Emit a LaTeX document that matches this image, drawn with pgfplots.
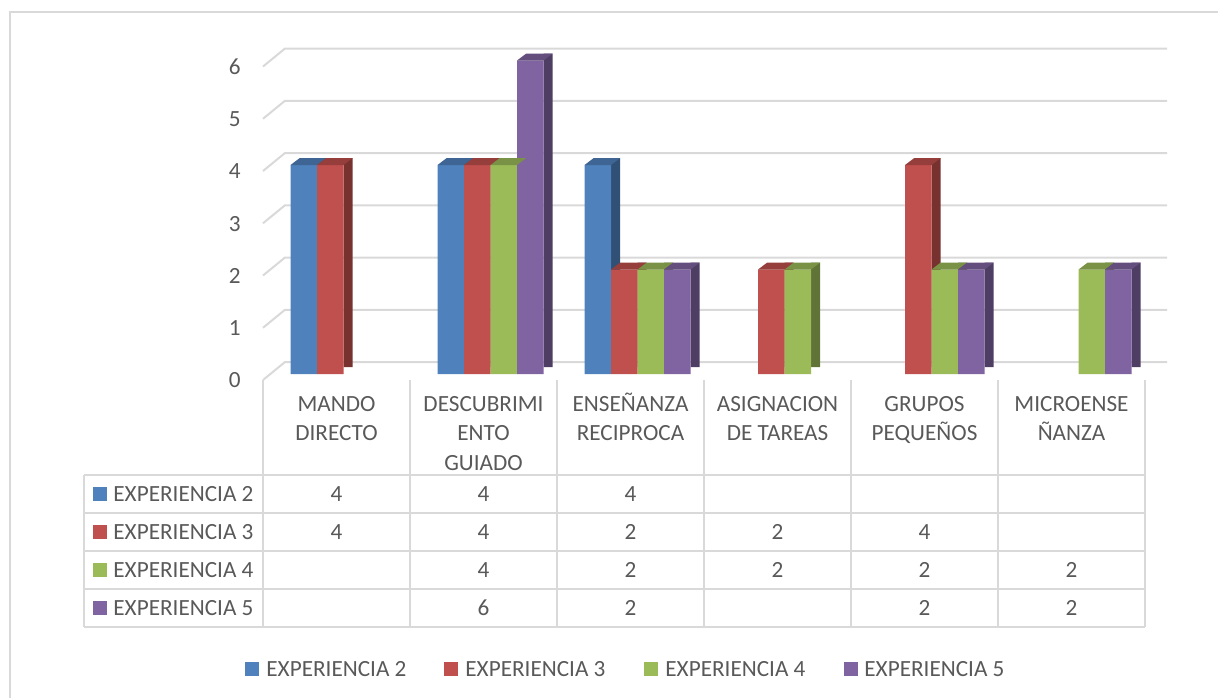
\documentclass[border=0pt]{standalone}
\usepackage{pgfplots}
\pgfplotsset{compat=1.18}
\usepackage{fontspec}
\setmainfont{Carlito}

\definecolor{txt}{HTML}{595959}
\definecolor{gridc}{HTML}{D9D9D9}
\definecolor{exA}{HTML}{4F81BD}
\definecolor{exB}{HTML}{C0504D}
\definecolor{exC}{HTML}{9BBB59}
\definecolor{exD}{HTML}{8064A2}

\newcommand\fs{\fontsize{11.6}{14}\selectfont}

% top face of a 3d column, drawn as a mark at the top of the bar
\pgfdeclareplotmark{top3d}{%
  \pgfpathmoveto{\pgfqpoint{-6.625pt}{0pt}}%
  \pgfpathlineto{\pgfqpoint{-2.125pt}{3.4pt}}%
  \pgfpathlineto{\pgfqpoint{11.125pt}{3.4pt}}%
  \pgfpathlineto{\pgfqpoint{6.625pt}{0pt}}%
  \pgfpathclose
  \pgfusepathqfill}

\pgfplotsset{
  front/.style 2 args={ybar, bar width=13.25pt, bar shift=#2, draw=none, fill=#1},
  side/.style 2 args={ybar, bar width=4.5pt, bar shift=#2+8.875pt, draw=none, fill=#1!62!black, yshift=3.4pt},
  top/.style 2 args={only marks, mark=top3d, fill=#1!78!black, draw=none, xshift=#2},
}

\begin{document}
\begin{tikzpicture}
\useasboundingbox (0pt,0pt) rectangle (609pt,-348.5pt);

\begin{axis}[
  at={(135pt,-187pt)}, anchor=south west,
  x=73.5pt, y=26.125pt,
  xmin=-0.5, xmax=5.5, ymin=0, ymax=6,
  axis line style={draw=none},
  xtick=\empty, ytick={0,...,6},
  major tick length=0pt,
  /pgf/number format/assume math mode=true,
  yticklabel style={font=\fs, text=txt, anchor=east, inner sep=0pt, xshift=-14.5pt, yshift=-3.25pt},
  clip=false,
]
\pgfplotsinvokeforeach{0,...,6}{
  \draw[gridc, line width=1pt] ([shift={(-3.5pt,-3pt)}]axis cs:-0.5,#1) -- ([shift={(7.5pt,6pt)}]axis cs:-0.5,#1) -- ([shift={(7.5pt,6pt)}]axis cs:5.5,#1);
}

% EXPERIENCIA 2
\addplot[side={exA}{-19.875pt}] coordinates {(0,4) (1,4) (2,4)};
\addplot[front={exA}{-19.875pt}] coordinates {(0,4) (1,4) (2,4)};
\addplot[top={exA}{-19.875pt}] coordinates {(0,4) (1,4) (2,4)};
% EXPERIENCIA 3
\addplot[side={exB}{-6.625pt}] coordinates {(0,4) (1,4) (2,2) (3,2) (4,4)};
\addplot[front={exB}{-6.625pt}] coordinates {(0,4) (1,4) (2,2) (3,2) (4,4)};
\addplot[top={exB}{-6.625pt}] coordinates {(0,4) (1,4) (2,2) (3,2) (4,4)};
% EXPERIENCIA 4
\addplot[side={exC}{6.625pt}] coordinates {(1,4) (2,2) (3,2) (4,2) (5,2)};
\addplot[front={exC}{6.625pt}] coordinates {(1,4) (2,2) (3,2) (4,2) (5,2)};
\addplot[top={exC}{6.625pt}] coordinates {(1,4) (2,2) (3,2) (4,2) (5,2)};
% EXPERIENCIA 5
\addplot[side={exD}{19.875pt}] coordinates {(1,6) (2,2) (4,2) (5,2)};
\addplot[front={exD}{19.875pt}] coordinates {(1,6) (2,2) (4,2) (5,2)};
\addplot[top={exD}{19.875pt}] coordinates {(1,6) (2,2) (4,2) (5,2)};
\end{axis}

\begin{scope}[x=0.5pt, y=-0.5pt, every node/.style={font=\fs, text=txt, inner sep=0pt}]
  % outer frame
  \begin{scope}
    \clip (0,0) rectangle (1218,697);
    \draw[gridc, line width=1pt] (10,720) -- (10,12) -- (1240,12);
  \end{scope}

  % data table grid
  \foreach \yy in {475,513,551,589,627}
    \draw[gridc, line width=1pt] (84,\yy) -- (1145,\yy);
  \draw[gridc, line width=1pt] (84,475) -- (84,627);
  \foreach \k in {0,...,6}
    \draw[gridc, line width=1pt] ({263+147*\k},380) -- ({263+147*\k},627);

  % category names
  \node[anchor=base] at (336.5,411) {MANDO};
  \node[anchor=base] at (336.5,440.5) {DIRECTO};
  \node[anchor=base] at (483.5,411) {DESCUBRIMI};
  \node[anchor=base] at (483.5,440.5) {ENTO};
  \node[anchor=base] at (483.5,470) {GUIADO};
  \node[anchor=base] at (630.5,411) {ENSEÑANZA};
  \node[anchor=base] at (630.5,440.5) {RECIPROCA};
  \node[anchor=base] at (777.5,411) {ASIGNACION};
  \node[anchor=base] at (777.5,440.5) {DE TAREAS};
  \node[anchor=base] at (924.5,411) {GRUPOS};
  \node[anchor=base] at (924.5,440.5) {PEQUEÑOS};
  \node[anchor=base] at (1071.5,411) {MICROENSE};
  \node[anchor=base] at (1071.5,440.5) {ÑANZA};

  % row headers
  \fill[exA] (93,487) rectangle (107,501);
  \node[anchor=base west] at (113,501) {EXPERIENCIA 2};
  \fill[exB] (93,525) rectangle (107,539);
  \node[anchor=base west] at (113,539) {EXPERIENCIA 3};
  \fill[exC] (93,563) rectangle (107,577);
  \node[anchor=base west] at (113,577) {EXPERIENCIA 4};
  \fill[exD] (93,601) rectangle (107,615);
  \node[anchor=base west] at (113,615) {EXPERIENCIA 5};

  % table values
  \node[anchor=base] at (336.5,501) {4};
  \node[anchor=base] at (483.5,501) {4};
  \node[anchor=base] at (630.5,501) {4};
  \node[anchor=base] at (336.5,539) {4};
  \node[anchor=base] at (483.5,539) {4};
  \node[anchor=base] at (630.5,539) {2};
  \node[anchor=base] at (777.5,539) {2};
  \node[anchor=base] at (924.5,539) {4};
  \node[anchor=base] at (483.5,577) {4};
  \node[anchor=base] at (630.5,577) {2};
  \node[anchor=base] at (777.5,577) {2};
  \node[anchor=base] at (924.5,577) {2};
  \node[anchor=base] at (1071.5,577) {2};
  \node[anchor=base] at (483.5,615) {6};
  \node[anchor=base] at (630.5,615) {2};
  \node[anchor=base] at (924.5,615) {2};
  \node[anchor=base] at (1071.5,615) {2};

  % legend
  \fill[exA] (245,662) rectangle (259,676);
  \node[anchor=base west] at (266,676) {EXPERIENCIA 2};
  \fill[exB] (444,662) rectangle (458,676);
  \node[anchor=base west] at (465,676) {EXPERIENCIA 3};
  \fill[exC] (644,662) rectangle (658,676);
  \node[anchor=base west] at (665,676) {EXPERIENCIA 4};
  \fill[exD] (844,662) rectangle (858,676);
  \node[anchor=base west] at (864,676) {EXPERIENCIA 5};
\end{scope}
\end{tikzpicture}
\end{document}
